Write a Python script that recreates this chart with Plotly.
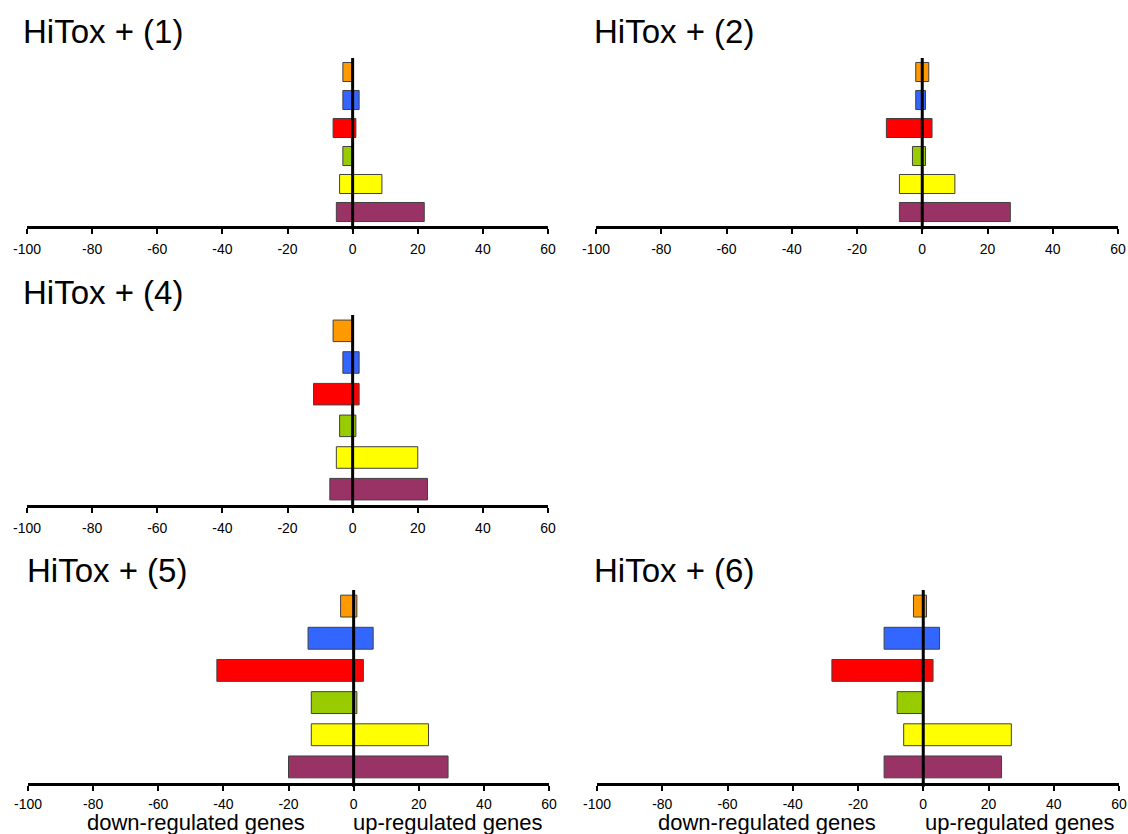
import plotly.graph_objects as go

# Categories listed top-to-bottom as drawn
categories = ["A", "B", "C", "D", "E", "F"]
colors = ["#FF9900", "#3366FF", "#FF0000", "#99CC00", "#FFFF00", "#993366"]

panel_titles = ["HiTox + (1)", "HiTox + (2)", "HiTox + (4)", "HiTox + (5)", "HiTox + (6)"]

down_1 = [-3, -3, -6, -3, -4, -5]
up_1 = [0, 2, 1, 0, 9, 22]
down_2 = [-2, -2, -11, -3, -7, -7]
up_2 = [2, 1, 3, 1, 10, 27]
down_4 = [-6, -3, -12, -4, -5, -7]
up_4 = [0, 2, 2, 1, 20, 23]
down_5 = [-4, -14, -42, -13, -13, -20]
up_5 = [1, 6, 3, 1, 23, 29]
down_6 = [-3, -12, -28, -8, -6, -12]
up_6 = [1, 5, 3, 0, 27, 24]

tick_vals = [-100, -80, -60, -40, -20, 0, 20, 40, 60]
tick_text = [str(v) for v in tick_vals]
x_label_down = "down-regulated genes"
x_label_up = "up-regulated genes"

W, H = 1128, 834
FONT = "Liberation Sans, Arial, sans-serif"

# pixel layouts: (x0, x1, ytop, ybottom), (title_x, title_y), tick label standoff
panels = [
    (down_1, up_1, (27, 548, 58, 226), (21, 32), 3),
    (down_2, up_2, (596, 1118, 58, 226), (592, 32), 3),
    (down_4, up_4, (27, 548, 315, 505), (21, 292), 3),
    (down_5, up_5, (28, 549, 590, 783), (25, 570), 1),
    (down_6, up_6, (597, 1119, 590, 783), (592, 570), 1),
]

fig = go.Figure()
annotations = []
shapes = []
for i, (dn, upv, (x0, x1, yt, yb), (tx, ty), standoff) in enumerate(panels):
    idx = "" if i == 0 else str(i + 1)
    xa, ya = "x" + idx, "y" + idx
    for vals in (dn, upv):
        fig.add_trace(go.Bar(
            x=vals, y=categories, orientation="h",
            marker=dict(color=colors, line=dict(color="#404040", width=1)),
            width=0.68, xaxis=xa, yaxis=ya, showlegend=False,
        ))
    fig.layout["xaxis" + idx] = dict(
        domain=[x0 / W, x1 / W], range=[-100, 60], anchor=ya,
        tickvals=tick_vals, ticktext=tick_text, ticks="outside", ticklen=5, tickwidth=2,
        tickcolor="black", showline=True, linecolor="black", linewidth=3,
        showgrid=False, zeroline=False, ticklabelstandoff=standoff,
        tickfont=dict(family=FONT, size=14, color="black"),
        layer="above traces", fixedrange=True, automargin=False,
    )
    fig.layout["yaxis" + idx] = dict(
        domain=[1 - yb / H, 1 - yt / H], anchor=xa, type="category",
        categoryorder="array", categoryarray=categories,
        range=[5.5, -0.5], visible=False, fixedrange=True, automargin=False,
    )
    shapes.append(dict(type="line", xref=xa, yref=ya + " domain", x0=0, x1=0,
                       y0=-0.02, y1=1.0, line=dict(color="black", width=3), layer="above"))
    annotations.append(dict(
        text=panel_titles[i], x=tx / W, y=1 - ty / H, xref="paper", yref="paper",
        xanchor="left", yanchor="middle", showarrow=False,
        font=dict(family=FONT, size=33, color="black"),
    ))

for cx_down, cx_up in ((196, 448), (767, 1020)):
    annotations.append(dict(text=x_label_down, x=cx_down / W, y=1 - 822 / H,
                            xref="paper", yref="paper", xanchor="center", yanchor="middle",
                            showarrow=False, borderpad=0,
                            font=dict(family=FONT, size=22, color="black")))
    annotations.append(dict(text=x_label_up, x=cx_up / W, y=1 - 822 / H,
                            xref="paper", yref="paper", xanchor="center", yanchor="middle",
                            showarrow=False, borderpad=0,
                            font=dict(family=FONT, size=22, color="black")))

fig.update_layout(
    width=W, height=H, margin=dict(l=0, r=0, t=0, b=0, autoexpand=False),
    paper_bgcolor="white", plot_bgcolor="white",
    barmode="relative", annotations=annotations, shapes=shapes,
)

fig.write_html("out.html", config={"displayModeBar": False})
